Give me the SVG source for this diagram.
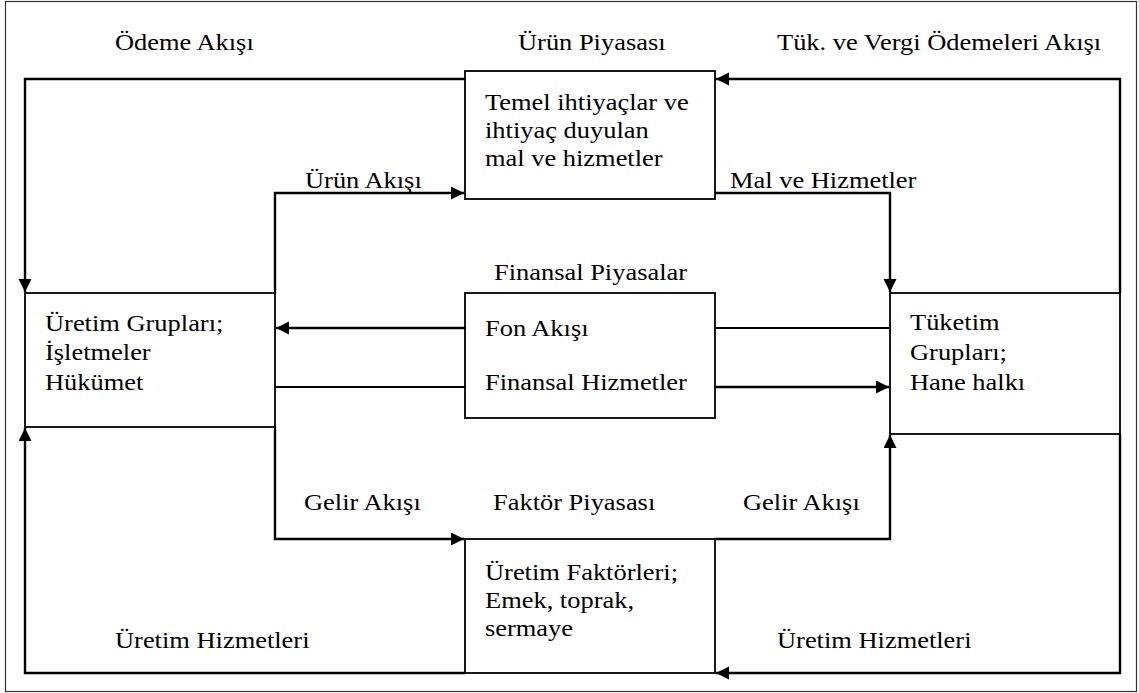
<svg xmlns="http://www.w3.org/2000/svg" width="1139" height="693" viewBox="0 0 1139 693">
<style>
.t{font-family:"Liberation Serif","Times New Roman",serif;font-size:23px;fill:#000}
.box{fill:#fff;stroke:#000;stroke-width:1.8}
.c{fill:none;stroke:#000;stroke-width:2.4}
.p{fill:none;stroke:#000;stroke-width:1.8}
.frame{fill:#fff;stroke:#333;stroke-width:1.2}
</style>
<defs>
<marker id="ah" markerUnits="userSpaceOnUse" markerWidth="14" markerHeight="14" refX="13" refY="6.5" orient="auto">
<path d="M0,0 L13,6.5 L0,13 z" fill="#000"/>
</marker>
</defs>
<rect class="frame" x="5.5" y="1.5" width="1131" height="690"/>

<g id="connectors">
<polyline class="c" points="465,79 25,79 25,292" marker-end="url(#ah)"/>
<polyline class="c" points="1120,293 1120,79 716,79" marker-end="url(#ah)"/>
<polyline class="c" points="275,293 275,193 464,193" marker-end="url(#ah)"/>
<polyline class="c" points="715,193 890,193 890,292" marker-end="url(#ah)"/>
<line class="p" x1="890" y1="328" x2="715" y2="328"/>
<line class="c" x1="465" y1="328" x2="276" y2="328" marker-end="url(#ah)"/>
<line class="p" x1="275" y1="387" x2="465" y2="387"/>
<line class="c" x1="715" y1="387" x2="889" y2="387" marker-end="url(#ah)"/>
<polyline class="c" points="275,427 275,539 464,539" marker-end="url(#ah)"/>
<polyline class="c" points="715,539 890,539 890,435" marker-end="url(#ah)"/>
<polyline class="c" points="1120,434 1120,673 716,673" marker-end="url(#ah)"/>
<polyline class="c" points="465,673 25,673 25,428" marker-end="url(#ah)"/>
</g>

<g id="labels">
<text class="t" transform="translate(115,50) scale(1.15,1)">Ödeme Akışı</text>
<text class="t" transform="translate(518,50) scale(1.15,1)">Ürün Piyasası</text>
<text class="t" transform="translate(777,50) scale(1.15,1)">Tük. ve Vergi Ödemeleri Akışı</text>
<text class="t" transform="translate(305,188) scale(1.15,1)">Ürün Akışı</text>
<text class="t" transform="translate(730,188) scale(1.15,1)">Mal ve Hizmetler</text>
<text class="t" transform="translate(494,280) scale(1.15,1)">Finansal Piyasalar</text>
<text class="t" transform="translate(304,510) scale(1.15,1)">Gelir Akışı</text>
<text class="t" transform="translate(493,510) scale(1.15,1)">Faktör Piyasası</text>
<text class="t" transform="translate(743,510) scale(1.15,1)">Gelir Akışı</text>
<text class="t" transform="translate(115,648) scale(1.15,1)">Üretim Hizmetleri</text>
<text class="t" transform="translate(777,648) scale(1.15,1)">Üretim Hizmetleri</text>
</g>

<g id="node-urun-piyasasi">
<rect class="box" x="465" y="71" width="250" height="128"/>
<text class="t" transform="translate(485,110) scale(1.15,1)"><tspan x="0" y="0">Temel ihtiyaçlar ve</tspan><tspan x="0" y="28">ihtiyaç duyulan</tspan><tspan x="0" y="56">mal ve hizmetler</tspan></text>
</g>

<g id="node-uretim-gruplari">
<rect class="box" x="25" y="293" width="250" height="134"/>
<text class="t" transform="translate(45,331) scale(1.15,1)"><tspan x="0" y="0">Üretim Grupları;</tspan><tspan x="0" y="29.5">İşletmeler</tspan><tspan x="0" y="59">Hükümet</tspan></text>
</g>

<g id="node-finansal">
<rect class="box" x="465" y="293" width="250" height="125"/>
<text class="t" transform="translate(485,336) scale(1.15,1)"><tspan x="0" y="0">Fon Akışı</tspan><tspan x="0" y="54">Finansal Hizmetler</tspan></text>
</g>

<g id="node-tuketim">
<rect class="box" x="890" y="293" width="230" height="141"/>
<text class="t" transform="translate(910,330) scale(1.15,1)"><tspan x="0" y="0">Tüketim</tspan><tspan x="0" y="30">Grupları;</tspan><tspan x="0" y="60">Hane halkı</tspan></text>
</g>

<g id="node-faktor">
<rect class="box" x="465" y="539" width="250" height="134"/>
<text class="t" transform="translate(485,580) scale(1.15,1)"><tspan x="0" y="0">Üretim Faktörleri;</tspan><tspan x="0" y="28">Emek, toprak,</tspan><tspan x="0" y="56">sermaye</tspan></text>
</g>
</svg>
